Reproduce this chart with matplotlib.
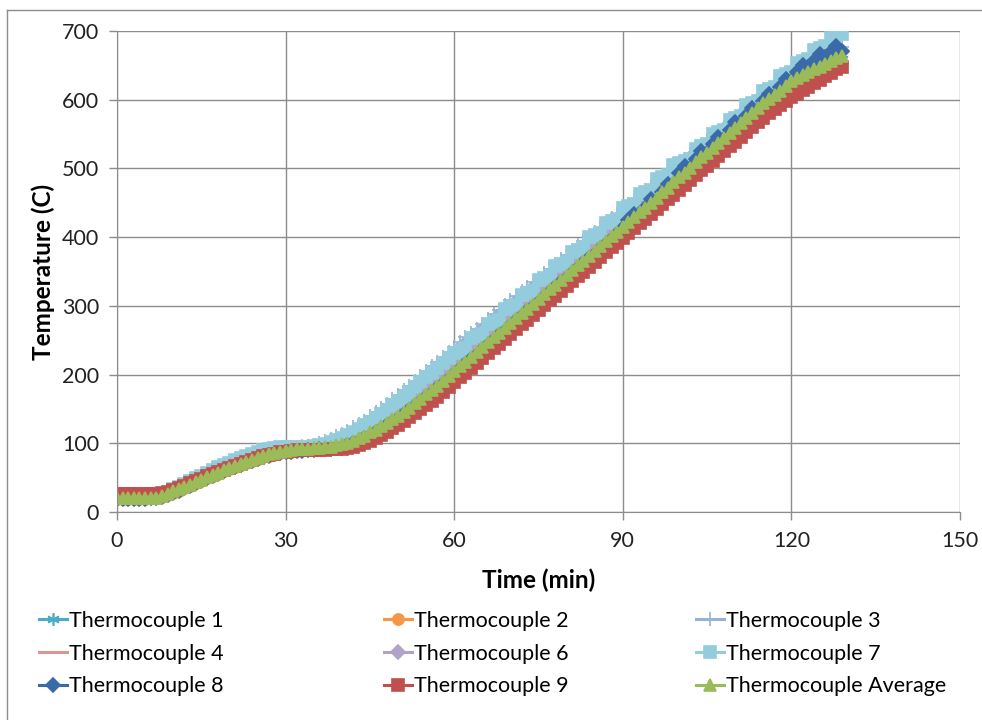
import matplotlib
matplotlib.use("Agg")
import matplotlib.pyplot as plt
from matplotlib.lines import Line2D

plt.rcParams['font.family'] = ['Lato', 'DejaVu Sans']

# time in minutes, one reading per minute
time_min = list(range(130))

tc1 = [21, 21, 21, 21, 21, 21, 22, 22, 24, 27,
       31, 34, 38, 41, 45, 48, 52, 55, 58, 62,
       65, 68, 71, 74, 77, 80, 83, 85, 87, 89,
       90, 91, 92, 92, 93, 93, 94, 95, 96, 98,
       100, 102, 105, 109, 113, 117, 122, 127, 132, 137,
       142, 148, 154, 160, 166, 173, 180, 186, 193, 200,
       207, 214, 221, 228, 235, 242, 249, 256, 263, 270,
       277, 284, 291, 298, 305, 312, 319, 326, 333, 340,
       347, 354, 361, 368, 375, 382, 389, 396, 403, 410,
       417, 424, 431, 438, 445, 452, 459, 467, 474, 482,
       489, 496, 503, 511, 518, 525, 532, 539, 547, 554,
       561, 568, 576, 583, 590, 597, 603, 609, 615, 622,
       629, 633, 638, 642, 646, 650, 654, 658, 662, 666]

tc2 = [19, 19, 19, 19, 19, 19, 20, 20, 22, 25,
       28, 31, 35, 38, 42, 45, 49, 52, 55, 59,
       62, 65, 68, 71, 74, 77, 80, 82, 84, 86,
       87, 88, 89, 90, 90, 91, 91, 92, 93, 94,
       96, 98, 101, 104, 108, 112, 116, 121, 126, 131,
       136, 142, 148, 154, 160, 166, 173, 179, 186, 193,
       200, 207, 214, 221, 228, 235, 242, 249, 256, 263,
       270, 277, 284, 291, 298, 305, 312, 319, 326, 333,
       340, 347, 354, 361, 368, 375, 382, 389, 396, 403,
       410, 417, 424, 431, 438, 445, 452, 459, 466, 474,
       481, 488, 495, 502, 509, 516, 523, 530, 537, 544,
       551, 558, 565, 572, 579, 586, 592, 598, 604, 610,
       616, 621, 626, 630, 634, 638, 642, 646, 650, 654]

tc3 = [21, 21, 21, 21, 21, 21, 21, 22, 24, 27,
       32, 36, 40, 44, 48, 52, 56, 60, 64, 67,
       71, 74, 77, 80, 83, 86, 88, 90, 92, 93,
       94, 94, 94, 95, 96, 98, 100, 103, 106, 110,
       114, 118, 123, 128, 133, 139, 145, 151, 157, 164,
       170, 177, 184, 191, 198, 205, 212, 219, 226, 233,
       240, 247, 254, 261, 267, 274, 281, 288, 294, 301,
       308, 314, 321, 328, 334, 341, 348, 354, 361, 368,
       374, 381, 388, 394, 401, 408, 414, 421, 428, 434,
       441, 448, 454, 461, 468, 474, 481, 488, 494, 501,
       508, 514, 521, 528, 534, 541, 548, 554, 561, 568,
       574, 581, 588, 594, 601, 608, 614, 621, 628, 634,
       640, 645, 650, 655, 659, 663, 667, 671, 674, 677]

tc4 = [24, 24, 24, 24, 24, 24, 24, 24, 25, 28,
       31, 34, 38, 41, 45, 48, 52, 55, 58, 61,
       64, 67, 70, 73, 76, 79, 82, 84, 86, 88,
       89, 90, 91, 91, 92, 92, 93, 93, 94, 96,
       98, 100, 103, 106, 110, 114, 119, 124, 129, 134,
       139, 145, 151, 157, 163, 170, 177, 183, 190, 197,
       204, 211, 218, 225, 232, 239, 246, 253, 260, 267,
       274, 281, 288, 295, 302, 309, 316, 323, 330, 337,
       344, 351, 358, 365, 372, 379, 386, 393, 400, 407,
       414, 421, 428, 435, 442, 449, 456, 464, 471, 479,
       486, 493, 500, 508, 515, 522, 529, 536, 544, 551,
       558, 565, 573, 580, 587, 594, 600, 606, 612, 619,
       626, 630, 635, 639, 643, 647, 651, 655, 659, 663]

tc6 = [21, 21, 21, 21, 21, 21, 21, 22, 24, 27,
       31, 35, 39, 42, 46, 50, 53, 57, 60, 64,
       67, 71, 74, 77, 80, 83, 85, 87, 89, 91,
       92, 93, 93, 94, 94, 95, 96, 98, 100, 103,
       106, 109, 113, 117, 121, 126, 131, 136, 142, 148,
       154, 160, 166, 173, 179, 186, 193, 200, 207, 214,
       221, 228, 235, 242, 249, 256, 263, 270, 277, 284,
       291, 298, 305, 312, 319, 326, 333, 340, 347, 354,
       361, 368, 375, 382, 389, 396, 403, 410, 417, 424,
       431, 438, 445, 452, 459, 466, 473, 480, 487, 494,
       501, 508, 515, 522, 529, 536, 543, 550, 557, 564,
       571, 578, 585, 592, 599, 606, 612, 618, 624, 630,
       636, 641, 645, 649, 653, 657, 661, 664, 667, 670]

tc7 = [22, 22, 22, 22, 22, 22, 22, 23, 25, 28,
       33, 37, 41, 45, 49, 53, 57, 61, 65, 69,
       72, 76, 79, 82, 85, 88, 90, 92, 93, 94,
       95, 95, 95, 95, 95, 96, 97, 99, 102, 105,
       108, 112, 116, 121, 126, 131, 137, 143, 149, 155,
       162, 168, 175, 182, 189, 196, 203, 210, 217, 224,
       232, 235, 238, 253, 256, 259, 274, 277, 280, 295,
       298, 301, 316, 319, 322, 337, 340, 343, 358, 361,
       364, 379, 382, 385, 400, 403, 406, 421, 424, 427,
       442, 445, 448, 463, 466, 469, 484, 487, 490, 505,
       508, 511, 514, 529, 532, 535, 550, 553, 556, 571,
       574, 577, 592, 595, 598, 613, 616, 619, 634, 637,
       640, 653, 656, 659, 672, 675, 678, 690, 693, 696]

tc8 = [19, 19, 19, 19, 19, 19, 20, 20, 22, 25,
       28, 31, 35, 38, 42, 45, 49, 52, 55, 59,
       62, 65, 68, 71, 74, 77, 80, 82, 84, 86,
       87, 88, 89, 89, 90, 90, 91, 91, 92, 93,
       95, 97, 100, 103, 107, 111, 116, 121, 126, 131,
       136, 142, 148, 154, 160, 167, 173, 180, 187, 194,
       201, 208, 215, 222, 229, 236, 243, 250, 257, 264,
       271, 278, 285, 292, 299, 306, 313, 320, 327, 334,
       341, 348, 355, 362, 369, 376, 383, 390, 397, 405,
       413, 425, 434, 431, 443, 455, 452, 465, 477, 474,
       493, 504, 501, 514, 525, 522, 535, 546, 543, 556,
       567, 564, 577, 588, 585, 598, 609, 606, 619, 630,
       627, 640, 651, 648, 657, 666, 662, 670, 678, 671]

tc9 = [26, 26, 26, 26, 26, 26, 26, 26, 27, 29,
       32, 35, 38, 42, 45, 48, 52, 55, 58, 61,
       64, 67, 70, 73, 76, 78, 81, 83, 85, 87,
       88, 89, 90, 90, 90, 90, 90, 90, 91, 91,
       92, 93, 95, 97, 100, 104, 108, 112, 117, 122,
       127, 132, 138, 144, 150, 156, 162, 168, 175, 182,
       189, 196, 203, 210, 217, 224, 231, 238, 245, 252,
       259, 266, 273, 280, 287, 294, 301, 308, 315, 322,
       329, 336, 343, 350, 357, 364, 371, 378, 385, 392,
       399, 406, 413, 420, 427, 434, 441, 448, 455, 462,
       469, 476, 483, 490, 497, 504, 511, 518, 525, 532,
       539, 546, 553, 560, 567, 574, 580, 586, 592, 598,
       604, 609, 614, 619, 624, 629, 634, 639, 644, 648]

tc_avg = [20, 20, 20, 20, 20, 21, 21, 21, 23, 26,
          30, 33, 37, 40, 44, 47, 51, 54, 57, 61,
          64, 67, 70, 73, 76, 79, 82, 84, 86, 88,
          89, 90, 91, 92, 92, 93, 93, 94, 95, 97,
          99, 101, 104, 107, 111, 116, 120, 125, 130, 135,
          140, 146, 152, 158, 164, 171, 178, 184, 191, 198,
          205, 212, 219, 226, 233, 240, 247, 254, 261, 268,
          275, 282, 289, 296, 303, 310, 317, 324, 331, 338,
          345, 352, 359, 366, 373, 380, 387, 394, 401, 408,
          415, 422, 429, 436, 443, 450, 457, 465, 472, 480,
          487, 494, 501, 509, 516, 523, 530, 537, 545, 552,
          559, 566, 574, 581, 588, 595, 601, 607, 613, 620,
          627, 631, 636, 640, 644, 648, 652, 656, 660, 664]

labels = ['Thermocouple 1', 'Thermocouple 2', 'Thermocouple 3',
          'Thermocouple 4', 'Thermocouple 6', 'Thermocouple 7',
          'Thermocouple 8', 'Thermocouple 9', 'Thermocouple Average']

# (data, colour, marker, markersize)
styles = [
    (tc1, '#4BACC6', (6, 2, 0), 9),
    (tc2, '#F79646', 'o', 8),
    (tc3, '#95B3D7', '+', 10),
    (tc4, '#D99694', None, 0),
    (tc6, '#B3A2C7', 'D', 7),
    (tc7, '#93CDDD', 's', 8),
    (tc8, '#3B6AA8', 'D', 7),
    (tc9, '#C0504D', 's', 8),
    (tc_avg, '#9BBB59', '^', 8.5),
]

fig = plt.figure(figsize=(9.82, 7.2), dpi=100)
ax = fig.add_axes([117 / 982, 1 - 512 / 720, (960 - 117) / 982, (512 - 31) / 720])

handles = []
for (vals, col, mk, ms), lab in zip(styles, labels):
    ax.plot(time_min, vals, color=col, lw=2.2, marker=mk, markersize=ms,
            markeredgecolor=col, markerfacecolor=col, markeredgewidth=1.2)
    handles.append(Line2D([], [], color=col, lw=2.2, marker=mk, markersize=ms,
                          markeredgecolor=col, markerfacecolor=col, markeredgewidth=1.2))

ax.set_xlim(0, 150)
ax.set_ylim(0, 700)
ax.set_xticks(range(0, 151, 30))
ax.set_yticks(range(0, 701, 100))
ax.grid(True, color='#8c8c8c', lw=1)
ax.set_axisbelow(True)
for s in ['top', 'right']:
    ax.spines[s].set_visible(False)
for s in ['left', 'bottom']:
    ax.spines[s].set_color('#8c8c8c')
ax.tick_params(axis='both', colors='#8c8c8c', labelcolor='#222222', labelsize=15.5,
               length=6, width=1, direction='out')
ax.tick_params(axis='x', pad=8)
ax.tick_params(axis='y', pad=7)
ax.set_xlabel('Time (min)', fontsize=17.5, fontweight='bold', labelpad=12)
ax.set_ylabel('Temperature (C)', fontsize=17.5, fontweight='bold', labelpad=5)

# legend: one block per column so the column positions can be set
col_x = [30, 375, 687]
for c in range(3):
    idx = [c, c + 3, c + 6]
    fig.legend([handles[i] for i in idx], [labels[i] for i in idx],
               loc='upper left', bbox_to_anchor=(col_x[c] / 982, 1 - 602 / 720),
               frameon=False, fontsize=15.5, numpoints=1, handlelength=1.3,
               handletextpad=0.1, labelspacing=0.6, borderaxespad=0)

# outer chart frame
fig.add_artist(Line2D([7 / 982, 1], [1 - 10 / 720, 1 - 10 / 720], color='#8c8c8c', lw=1))
fig.add_artist(Line2D([7 / 982, 7 / 982], [0, 1 - 10 / 720], color='#8c8c8c', lw=1))

fig.savefig('out.png', dpi=100)
